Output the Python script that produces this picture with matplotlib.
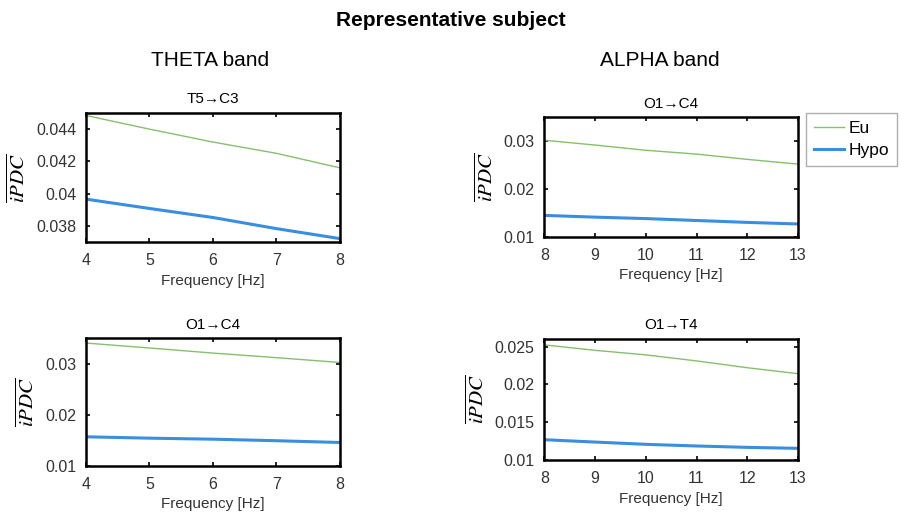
import numpy as np
import matplotlib.pyplot as plt
from matplotlib.ticker import FuncFormatter

plt.rcParams['font.family'] = ['Liberation Sans', 'DejaVu Sans']
plt.rcParams['mathtext.fontset'] = 'stix'

# frequency grids
freq_theta = [4, 5, 6, 7, 8]
freq_alpha = [8, 9, 10, 11, 12, 13]

# THETA band, T5->C3
t5c3_eu = [0.04485, 0.0440, 0.0432, 0.0425, 0.0416]
t5c3_hypo = [0.03966, 0.03908, 0.03852, 0.03783, 0.03721]

# THETA band, O1->C4
o1c4_theta_eu = [0.03407, 0.0331, 0.0321, 0.0312, 0.03026]
o1c4_theta_hypo = [0.01567, 0.0154, 0.0152, 0.0149, 0.01455]

# ALPHA band, O1->C4
o1c4_alpha_eu = [0.0302, 0.0292, 0.0281, 0.0273, 0.0262, 0.0252]
o1c4_alpha_hypo = [0.01447, 0.0141, 0.0138, 0.0134, 0.0130, 0.01267]

# ALPHA band, O1->T4
o1t4_eu = [0.02522, 0.0245, 0.0239, 0.0231, 0.0222, 0.02141]
o1t4_hypo = [0.01268, 0.01237, 0.01207, 0.01185, 0.01167, 0.01154]

EU_COLOR = '#86c06c'
HYPO_COLOR = '#3a8ee0'

fig = plt.figure(figsize=(9.02, 5.18), dpi=100)

panels = [
    # rect, title, freqs, eu, hypo, ylim, yticks
    ([0.0953, 0.5328, 0.2816, 0.2490], 'T5→C3', freq_theta, t5c3_eu, t5c3_hypo,
     (0.037, 0.045), [0.038, 0.040, 0.042, 0.044]),
    ([0.6034, 0.5430, 0.2813, 0.2305], 'O1→C4', freq_alpha, o1c4_alpha_eu, o1c4_alpha_hypo,
     (0.01, 0.035), [0.01, 0.02, 0.03]),
    ([0.0953, 0.1010, 0.2816, 0.2459], 'O1→C4', freq_theta, o1c4_theta_eu, o1c4_theta_hypo,
     (0.01, 0.035), [0.01, 0.02, 0.03]),
    ([0.6034, 0.1120, 0.2813, 0.2336], 'O1→T4', freq_alpha, o1t4_eu, o1t4_hypo,
     (0.01, 0.026), [0.01, 0.015, 0.02, 0.025]),
]

fmt = FuncFormatter(lambda v, pos: '%g' % round(v, 4))

for rect, title, freqs, eu, hypo, ylim, yticks in panels:
    ax = fig.add_axes(rect)
    ax.plot(freqs, eu, color=EU_COLOR, lw=1.0, label='Eu')
    ax.plot(freqs, hypo, color=HYPO_COLOR, lw=2.2, label='Hypo')
    ax.set_xlim(freqs[0], freqs[-1])
    ax.set_xticks(freqs)
    ax.set_ylim(*ylim)
    ax.set_yticks(yticks)
    ax.yaxis.set_major_formatter(fmt)
    ax.tick_params(direction='in', top=True, right=True, length=3, width=1.2,
                   labelsize=11.5, colors='black', labelcolor='#333333')
    ax.tick_params(axis='x', pad=8)
    ax.tick_params(axis='y', pad=7)
    for sp in ax.spines.values():
        sp.set_linewidth(1.8)
    ax.set_title(title, fontsize=11, pad=7)
    ax.set_xlabel('Frequency [Hz]', fontsize=11, color='#333333', labelpad=4)
    ax.set_ylabel(r'$\overline{iPDC}$', fontsize=15, labelpad=5)
    if title == 'T5→C3':
        handles, labels = ax.get_legend_handles_labels()

fig.text(0.5, 1 - 20 / 518, 'Representative subject', ha='center', va='center',
         fontsize=15, fontweight='bold')
fig.text(210 / 902, 1 - 60 / 518, 'THETA band', ha='center', va='center', fontsize=15)
fig.text(660 / 902, 1 - 60 / 518, 'ALPHA band', ha='center', va='center', fontsize=15)

leg = fig.legend(handles, labels, loc='upper left', bbox_to_anchor=(0.8936, 0.7819),
                 borderaxespad=0, fancybox=False, fontsize=12.5, handlelength=1.75,
                 handletextpad=0.25, labelspacing=0.4, borderpad=0.45)
leg.get_frame().set_edgecolor('#999999')
leg.get_frame().set_linewidth(1.0)

fig.savefig('out.png', dpi=100)
